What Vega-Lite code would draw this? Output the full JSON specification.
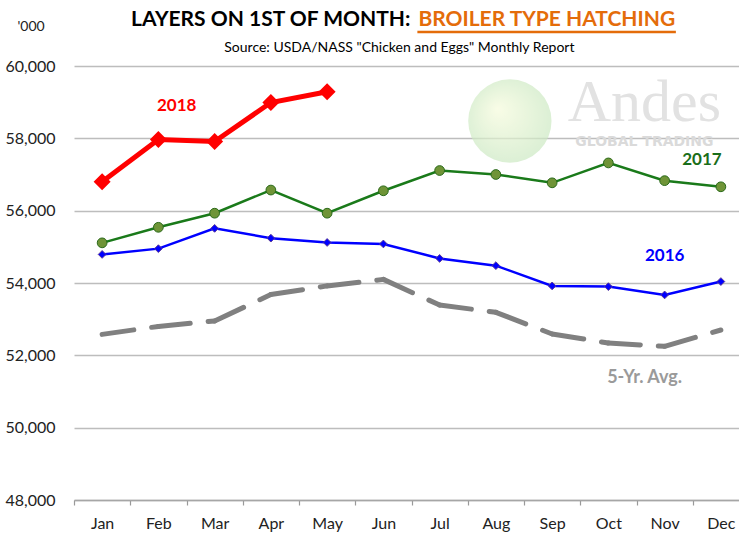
{
  "$schema": "https://vega.github.io/schema/vega-lite/v6.json",
  "autosize": {"type": "none"},
  "width": 665,
  "height": 434,
  "padding": {"left": 74, "top": 66, "right": 0, "bottom": 35},
  "background": "white",
  "config": {
    "view": {"stroke": null},
    "font": "Lato"
  },
  "datasets": {
    "series": [
      {"m": "Jan", "s": "2018", "v": 56800},
      {"m": "Feb", "s": "2018", "v": 57970},
      {"m": "Mar", "s": "2018", "v": 57910},
      {"m": "Apr", "s": "2018", "v": 58990},
      {"m": "May", "s": "2018", "v": 59290},
      {"m": "Jan", "s": "2017", "v": 55110},
      {"m": "Feb", "s": "2017", "v": 55540},
      {"m": "Mar", "s": "2017", "v": 55930},
      {"m": "Apr", "s": "2017", "v": 56570},
      {"m": "May", "s": "2017", "v": 55930},
      {"m": "Jun", "s": "2017", "v": 56550},
      {"m": "Jul", "s": "2017", "v": 57110},
      {"m": "Aug", "s": "2017", "v": 57000},
      {"m": "Sep", "s": "2017", "v": 56770},
      {"m": "Oct", "s": "2017", "v": 57320},
      {"m": "Nov", "s": "2017", "v": 56830},
      {"m": "Dec", "s": "2017", "v": 56660},
      {"m": "Jan", "s": "2016", "v": 54790},
      {"m": "Feb", "s": "2016", "v": 54950},
      {"m": "Mar", "s": "2016", "v": 55510},
      {"m": "Apr", "s": "2016", "v": 55240},
      {"m": "May", "s": "2016", "v": 55120},
      {"m": "Jun", "s": "2016", "v": 55080},
      {"m": "Jul", "s": "2016", "v": 54680},
      {"m": "Aug", "s": "2016", "v": 54480},
      {"m": "Sep", "s": "2016", "v": 53920},
      {"m": "Oct", "s": "2016", "v": 53900},
      {"m": "Nov", "s": "2016", "v": 53670},
      {"m": "Dec", "s": "2016", "v": 54040}
    ],
    "avg": [
      {"m": "Jan", "v": 52580},
      {"m": "Feb", "v": 52800},
      {"m": "Mar", "v": 52950},
      {"m": "Apr", "v": 53680},
      {"m": "May", "v": 53920},
      {"m": "Jun", "v": 54100},
      {"m": "Jul", "v": 53390},
      {"m": "Aug", "v": 53190},
      {"m": "Sep", "v": 52590},
      {"m": "Oct", "v": 52340},
      {"m": "Nov", "v": 52250},
      {"m": "Dec", "v": 52700}
    ]
  },
  "layer": [
    {
      "data": {"values": [{"k": 1}]},
      "mark": {"type": "point", "shape": "circle", "filled": true, "size": 6940, "xOffset": 14,
        "fill": {"gradient": "radial", "x1": 0.35, "y1": 0.35, "x2": 0.5, "y2": 0.5, "r1": 0, "r2": 0.6,
          "stops": [{"offset": 0, "color": "#f6fbdc"}, {"offset": 1, "color": "#c6e6bf"}]}},
      "encoding": {"x": {"datum": "Aug", "type": "nominal"}, "y": {"datum": 58479, "type": "quantitative"}}
    },
    {
      "data": {"values": [{"k": 1}]},
      "mark": {"type": "text", "text": "Andes", "font": "Liberation Serif", "fontSize": 60, "color": "#e2e2e2", "align": "center", "baseline": "alphabetic", "dx": 36},
      "encoding": {"x": {"datum": "Oct", "type": "nominal"}, "y": {"datum": 58480, "type": "quantitative"}}
    },
    {
      "data": {"values": [{"k": 1}]},
      "mark": {"type": "text", "text": "GLOBAL TRADING", "font": "DejaVu Sans", "fontWeight": "bold", "fontSize": 14, "color": "#dadada", "align": "center", "baseline": "alphabetic", "dx": 36},
      "encoding": {"x": {"datum": "Oct", "type": "nominal"}, "y": {"datum": 57790, "type": "quantitative"}}
    },
    {
      "data": {"name": "avg"},
      "transform": [
        {"window": [{"op": "lead", "field": "m", "as": "m2"}, {"op": "lead", "field": "v", "as": "v2"}]},
        {"filter": "datum.m2 != null"}
      ],
      "mark": {"type": "rule", "strokeWidth": 5, "strokeDash": [32, 18], "strokeCap": "round", "color": "#808080"},
      "encoding": {
        "x": {
          "field": "m", "type": "nominal",
          "scale": {"domain": ["Jan","Feb","Mar","Apr","May","Jun","Jul","Aug","Sep","Oct","Nov","Dec"], "range": [0, 675], "paddingInner": 0, "paddingOuter": 0},
          "axis": {
            "title": null, "labelAngle": 0, "labelAlign": "center", "labelBaseline": "top", "labelFontSize": 16, "labelColor": "#222", "labelFont": "Lato",
            "ticks": true, "tickBand": "extent", "tickSize": 5, "tickColor": "#999999", "tickWidth": 1.2,
            "domainColor": "#a6a6a6", "domainWidth": 1.5,
            "labelPadding": 10, "grid": false
          }
        },
        "y": {
          "field": "v", "type": "quantitative",
          "scale": {"domain": [48000, 60000], "nice": false, "zero": false},
          "axis": {
            "title": null, "values": [48000, 50000, 52000, 54000, 56000, 58000, 60000], "format": ",d",
            "labelFontSize": 16, "labelColor": "#222", "labelFont": "Lato", "labelPadding": 19,
            "ticks": false, "tickSize": 0, "domain": false, "grid": true, "gridColor": "#bdbdbd", "gridWidth": 1.5
          }
        },
        "x2": {"field": "m2"},
        "y2": {"field": "v2"}
      }
    },
    {
      "data": {"name": "series"},
      "transform": [{"filter": "datum.s == '2016'"}],
      "mark": {"type": "line", "color": "#0000ff", "strokeWidth": 2.5, "point": {"shape": "diamond", "size": 60, "filled": true, "fill": "#0000ff", "stroke": "#5a3a9a", "strokeWidth": 1}},
      "encoding": {"x": {"field": "m", "type": "nominal"}, "y": {"field": "v", "type": "quantitative"}}
    },
    {
      "data": {"name": "series"},
      "transform": [{"filter": "datum.s == '2017'"}],
      "mark": {"type": "line", "color": "#1a7a1a", "strokeWidth": 2.5, "point": {"shape": "circle", "size": 95, "filled": true, "fill": "#6f9437", "stroke": "#2a6a1a", "strokeWidth": 1}},
      "encoding": {"x": {"field": "m", "type": "nominal"}, "y": {"field": "v", "type": "quantitative"}}
    },
    {
      "data": {"name": "series"},
      "transform": [{"filter": "datum.s == '2018'"}],
      "mark": {"type": "line", "color": "#ff0000", "strokeWidth": 5, "point": {"shape": "diamond", "size": 200, "filled": true, "fill": "#ff0000", "stroke": "#ff0000"}},
      "encoding": {"x": {"field": "m", "type": "nominal"}, "y": {"field": "v", "type": "quantitative"}}
    },
    {
      "data": {"values": [{"k": 1}]},
      "mark": {"type": "text", "text": "2018", "fontWeight": "bold", "fontSize": 17, "color": "#ff0000", "align": "center", "baseline": "middle", "dx": -38},
      "encoding": {"x": {"datum": "Mar", "type": "nominal"}, "y": {"datum": 58894, "type": "quantitative"}}
    },
    {
      "data": {"values": [{"k": 1}]},
      "mark": {"type": "text", "text": "2017", "fontWeight": "bold", "fontSize": 17, "color": "#1a6e1a", "align": "center", "baseline": "middle", "dx": -19},
      "encoding": {"x": {"datum": "Dec", "type": "nominal"}, "y": {"datum": 57401, "type": "quantitative"}}
    },
    {
      "data": {"values": [{"k": 1}]},
      "mark": {"type": "text", "text": "2016", "fontWeight": "bold", "fontSize": 17, "color": "#0000ff", "align": "center", "baseline": "middle", "dx": 0},
      "encoding": {"x": {"datum": "Nov", "type": "nominal"}, "y": {"datum": 54747, "type": "quantitative"}}
    },
    {
      "data": {"values": [{"k": 1}]},
      "mark": {"type": "text", "text": "5-Yr. Avg.", "fontWeight": "bold", "fontSize": 18, "color": "#9a9a9a", "align": "center", "baseline": "middle", "dx": -20},
      "encoding": {"x": {"datum": "Nov", "type": "nominal"}, "y": {"datum": 51374, "type": "quantitative"}}
    },
    {
      "data": {"values": [{"k": 1}]},
      "mark": {"type": "text", "text": "LAYERS ON 1ST OF MONTH:", "fontWeight": "bold", "fontSize": 21, "color": "#000000", "align": "right", "baseline": "middle", "dx": 27},
      "encoding": {"x": {"datum": "Jun", "type": "nominal"}, "y": {"datum": 61272, "type": "quantitative"}}
    },
    {
      "data": {"values": [{"k": 1}]},
      "mark": {"type": "text", "text": "BROILER TYPE HATCHING", "fontWeight": "bold", "fontSize": 21, "color": "#e46c0a", "align": "left", "baseline": "middle", "dx": 35},
      "encoding": {"x": {"datum": "Jun", "type": "nominal"}, "y": {"datum": 61272, "type": "quantitative"}}
    },
    {
      "data": {"values": [{"k": 1}]},
      "mark": {"type": "rule", "strokeWidth": 2.5, "color": "#e46c0a", "xOffset": 34, "x2Offset": -45},
      "encoding": {"x": {"datum": "Jun", "type": "nominal"}, "x2": {"datum": "Dec"}, "y": {"datum": 60940, "type": "quantitative"}}
    },
    {
      "data": {"values": [{"k": 1}]},
      "mark": {"type": "text", "text": "Source: USDA/NASS \"Chicken and Eggs\" Monthly Report", "fontSize": 14, "color": "#000000", "align": "center", "baseline": "middle", "dx": 16},
      "encoding": {"x": {"datum": "Jun", "type": "nominal"}, "y": {"datum": 60498, "type": "quantitative"}}
    },
    {
      "data": {"values": [{"k": 1}]},
      "mark": {"type": "text", "text": "'000", "fontSize": 14, "color": "#222", "align": "center", "baseline": "middle", "dx": -71},
      "encoding": {"x": {"datum": "Jan", "type": "nominal"}, "y": {"datum": 61078, "type": "quantitative"}}
    }
  ]
}
